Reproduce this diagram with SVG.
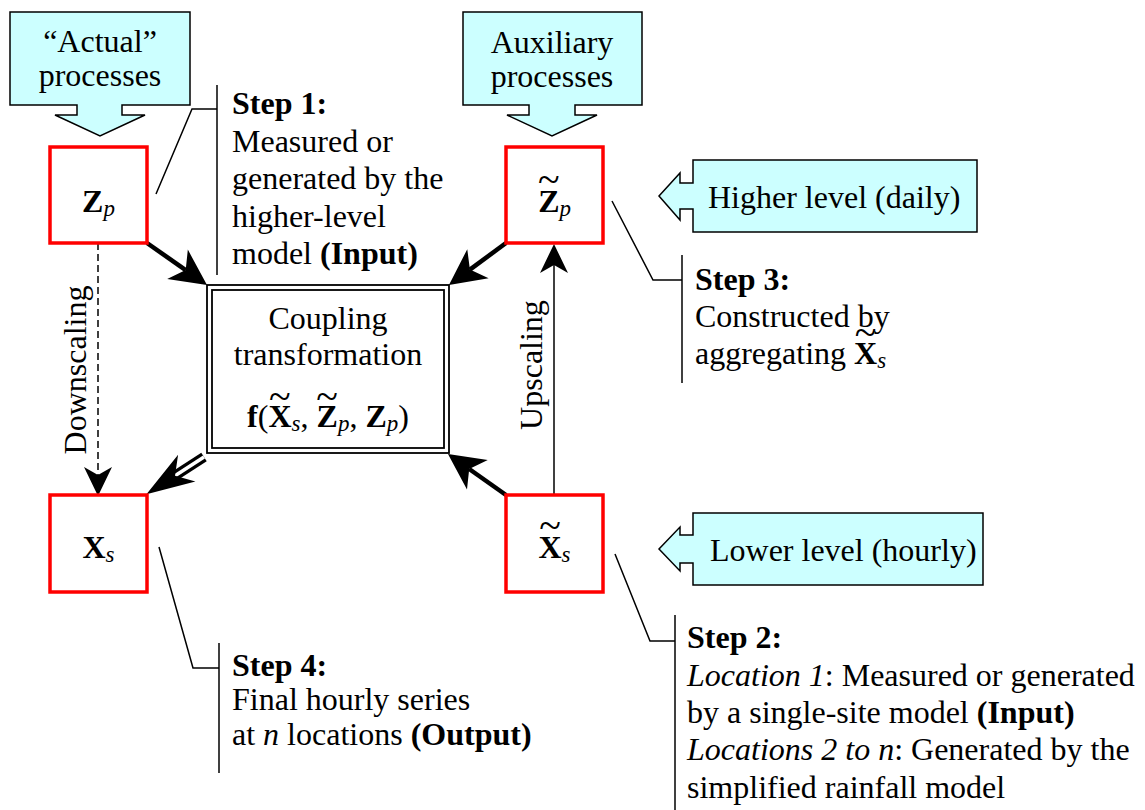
<svg xmlns="http://www.w3.org/2000/svg" width="1145" height="810" viewBox="0 0 1145 810">
  <style>
    text { font-family: "Liberation Serif", "Times New Roman", serif; font-size: 32px; fill: #000; }
    .b { font-weight: bold; }
    .i { font-style: italic; }
    .sub { font-size: 23px; }
    .tl { font-size: 40px; }
    .mid { text-anchor: middle; }
    .callout { fill: #CCFFFF; stroke: #000; stroke-width: 1.5; }
    .node { fill: #fff; stroke: #FF0000; stroke-width: 3.5; }
    .frame { fill: #fff; stroke: #000; stroke-width: 1.8; }
    .lead { fill: none; stroke: #000; stroke-width: 1.5; }
    .thick { fill: none; stroke: #000; stroke-width: 4.5; }
    .thin { fill: none; stroke: #000; stroke-width: 1.5; }
    .dash { stroke-dasharray: 7 4; }
  </style>
  <defs>
    <marker id="headBig" markerUnits="userSpaceOnUse" viewBox="-2 -20 42 40" markerWidth="42" markerHeight="40" refX="10" refY="0" orient="auto" overflow="visible">
      <path d="M0,-18 L36,0 L0,18 L10,0 Z" fill="#000"/>
    </marker>
    <marker id="headDouble" markerUnits="userSpaceOnUse" viewBox="-2 -20 54 40" markerWidth="54" markerHeight="40" refX="14" refY="0" orient="auto" overflow="visible">
      <path d="M0,-16 L48,0 L0,16 L14,0 Z" fill="#000"/>
    </marker>
    <marker id="headThin" markerUnits="userSpaceOnUse" viewBox="-2 -16 34 32" markerWidth="34" markerHeight="32" refX="8" refY="0" orient="auto" overflow="visible">
      <path d="M0,-14 L29,0 L0,14 L8,0 Z" fill="#000"/>
    </marker>
  </defs>

  <!-- callout arrows -->
  <g id="actual-processes">
    <path class="callout" d="M10,12 H190 V105 H122 V115 H145 L100,136 L55,115 H77 V105 H10 Z"/>
    <text class="mid" x="100" y="52">“Actual”</text>
    <text class="mid" x="100" y="86">processes</text>
  </g>
  <g id="auxiliary-processes">
    <path class="callout" d="M463,12 H642 V105 H575 V115 H597 L552,136 L507,115 H529 V105 H463 Z"/>
    <text class="mid" x="552" y="53">Auxiliary</text>
    <text class="mid" x="552" y="87">processes</text>
  </g>
  <g id="higher-level">
    <path class="callout" d="M693,160 H977 V232 H693 V209 H680 V220 L659,196 L680,173 V183 H693 Z"/>
    <text x="708" y="208">Higher level (daily)</text>
  </g>
  <g id="lower-level">
    <path class="callout" d="M693,513 H983 V585 H693 V563 H680 V571 L659,549 L680,527 V535 H693 Z"/>
    <text x="710" y="561">Lower level (hourly)</text>
  </g>

  <!-- connectors -->
  <g id="connectors">
    <path class="thick" d="M147,243 L185.7,270.1" marker-end="url(#headBig)"/>
    <path class="thick" d="M506,243 L469.9,269.6" marker-end="url(#headBig)"/>
    <path class="thick" d="M506,495 L469.2,469" marker-end="url(#headBig)"/>
    <path d="M204,457 L175,475.7" fill="none" stroke="#000" stroke-width="10"/>
    <path d="M204,457 L175,475.7" fill="none" stroke="#fff" stroke-width="3.5" marker-end="url(#headDouble)"/>
    <path class="thin dash" d="M98,243 L98,475" marker-end="url(#headThin)"/>
    <path class="thin" d="M554,495 L554,265" marker-end="url(#headThin)"/>
    <text class="mid" transform="translate(86,370) rotate(-90)">Downscaling</text>
    <text class="mid" transform="translate(542,365) rotate(-90)">Upscaling</text>
  </g>

  <!-- coupling transformation -->
  <g id="coupling">
    <rect class="frame" x="207" y="285" width="242" height="168"/>
    <rect class="frame" x="212" y="290" width="232" height="158"/>
    <text class="mid" x="328" y="329">Coupling</text>
    <text class="mid" x="328" y="365">transformation</text>
    <text class="mid" x="328" y="427"><tspan class="b">f</tspan>(<tspan class="b">X</tspan><tspan class="tl" dx="-22.4" dy="-17">~</tspan><tspan class="i sub" dx="0.8" dy="21">s</tspan><tspan dy="-4">, </tspan><tspan class="b">Z</tspan><tspan class="tl" dx="-21.5" dy="-17">~</tspan><tspan class="i sub" dx="-0.1" dy="21">p</tspan><tspan dy="-4">, </tspan><tspan class="b">Z</tspan><tspan class="i sub" dy="4">p</tspan><tspan dy="-4">)</tspan></text>
  </g>

  <!-- variable nodes -->
  <g id="node-Zp">
    <rect class="node" x="50" y="147" width="97" height="96"/>
    <text class="mid" x="98.5" y="212"><tspan class="b">Z</tspan><tspan class="i sub" dy="4">p</tspan></text>
  </g>
  <g id="node-Zp-tilde">
    <rect class="node" x="506" y="147" width="97" height="96"/>
    <text class="mid" x="554.5" y="212"><tspan class="b">Z</tspan><tspan class="tl" dx="-21.5" dy="-19">~</tspan><tspan class="i sub" dx="-0.1" dy="23">p</tspan></text>
  </g>
  <g id="node-Xs">
    <rect class="node" x="50" y="495" width="97" height="97"/>
    <text class="mid" x="98.5" y="558"><tspan class="b">X</tspan><tspan class="i sub" dy="4">s</tspan></text>
  </g>
  <g id="node-Xs-tilde">
    <rect class="node" x="506" y="495" width="97" height="97"/>
    <text class="mid" x="554.5" y="558"><tspan class="b">X</tspan><tspan class="tl" dx="-22.4" dy="-19">~</tspan><tspan class="i sub" dx="0.8" dy="23">s</tspan></text>
  </g>

  <!-- step annotations -->
  <g id="step1">
    <path class="lead" d="M156,194 L192,109 H217"/>
    <path class="lead" d="M217,85 V275"/>
    <text x="232" y="114" class="b">Step 1:</text>
    <text x="232" y="151.5">Measured or</text>
    <text x="232" y="189">generated by the</text>
    <text x="232" y="226.5">higher-level</text>
    <text x="232" y="264">model <tspan class="b">(Input)</tspan></text>
  </g>
  <g id="step3">
    <path class="lead" d="M612,201 L653,280 H682"/>
    <path class="lead" d="M682,255 V383"/>
    <text x="695" y="290" class="b">Step 3:</text>
    <text x="695" y="327">Constructed by</text>
    <text x="695" y="364">aggregating <tspan class="b">X</tspan><tspan class="tl" dx="-22.4" dy="-18">~</tspan><tspan class="i sub" dx="0.8" dy="22">s</tspan></text>
  </g>
  <g id="step2">
    <path class="lead" d="M615,554 L650,641 H675"/>
    <path class="lead" d="M675,615 V810"/>
    <text x="687" y="648" class="b">Step 2:</text>
    <text x="687" y="686"><tspan class="i">Location 1</tspan>: Measured or generated</text>
    <text x="687" y="723">by a single-site model <tspan class="b">(Input)</tspan></text>
    <text x="687" y="760"><tspan class="i">Locations 2 to n</tspan>: Generated by the</text>
    <text x="687" y="798">simplified rainfall model</text>
  </g>
  <g id="step4">
    <path class="lead" d="M159,547 L193,668 H219"/>
    <path class="lead" d="M219,643 V773"/>
    <text x="232" y="676" class="b">Step 4:</text>
    <text x="232" y="710">Final hourly series</text>
    <text x="232" y="745">at <tspan class="i">n</tspan> locations <tspan class="b">(Output)</tspan></text>
  </g>
</svg>
